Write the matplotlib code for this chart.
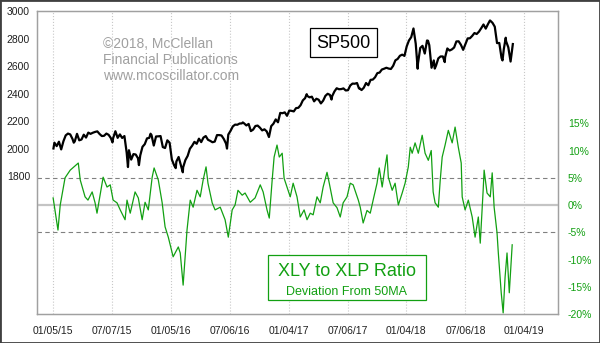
import pandas as pd
import matplotlib
matplotlib.use('Agg')
import matplotlib.pyplot as plt
import matplotlib.dates as mdates
from matplotlib.patches import Rectangle

plt.rcParams['font.family'] = ['Liberation Sans', 'DejaVu Sans']

# SP500 weekly closes (Fridays)
sp500_2015 = [2044, 2019, 2051, 1995, 2055, 2097, 2110, 2104, 2071, 2053, 2108, 2061,
              2067, 2102, 2081, 2117, 2108, 2116, 2122, 2126, 2107, 2092, 2094, 2110,
              2101, 2077, 2077, 2127, 2079, 2104, 2078, 2092, 1971, 1989, 1921, 1961,
              1958, 1931, 1951, 2014, 2033, 2075, 2079, 2099, 2023, 2089, 2090, 2092,
              2012, 2005, 2061, 2044]
sp500_2016 = [1922, 1880, 1907, 1940, 1880, 1865, 1918, 1948, 2000, 2022, 2050, 2036,
              2073, 2048, 2081, 2092, 2065, 2057, 2047, 2052, 2099, 2099, 2096, 2071,
              2037, 2103, 2130, 2162, 2175, 2174, 2183, 2184, 2184, 2169, 2180, 2128,
              2139, 2165, 2168, 2153, 2133, 2141, 2126, 2085, 2164, 2182, 2213, 2192,
              2260, 2258, 2264, 2239]
sp500_2017 = [2277, 2275, 2271, 2295, 2297, 2316, 2351, 2367, 2383, 2373, 2378, 2344,
              2363, 2356, 2329, 2349, 2384, 2399, 2391, 2382, 2416, 2439, 2432, 2433,
              2438, 2423, 2425, 2459, 2473, 2472, 2477, 2441, 2426, 2443, 2477, 2461,
              2500, 2502, 2519, 2549, 2553, 2575, 2581, 2588, 2582, 2579, 2602, 2642,
              2652, 2675, 2683, 2674]
sp500_2018 = [2743, 2786, 2810, 2873, 2762, 2620, 2732, 2747, 2691, 2786, 2752, 2588,
              2641, 2604, 2656, 2670, 2670, 2663, 2728, 2713, 2721, 2735, 2779, 2780,
              2755, 2718, 2760, 2801, 2802, 2819, 2840, 2833, 2850, 2875, 2902, 2872,
              2905, 2930, 2914, 2886, 2767, 2768, 2659, 2723, 2781, 2736, 2633, 2760]

# daily swing points between the weekly closes
sp500_extra_dates = ['2015-01-06', '2015-03-10', '2015-07-08', '2015-08-25', '2015-09-28',
                     '2015-11-03', '2016-01-20', '2016-02-11', '2016-06-27', '2016-08-15',
                     '2016-11-04', '2017-03-01', '2017-05-17', '2017-08-10', '2018-02-08',
                     '2018-03-12', '2018-04-02', '2018-05-03', '2018-09-20', '2018-10-29',
                     '2018-11-08']
sp500_extra = [2002, 2044, 2046, 1867, 1881, 2109, 1859, 1829, 2001, 2191,
               2085, 2396, 2357, 2438, 2581, 2784, 2582, 2629, 2931, 2641, 2806]

# XLY/XLP ratio, % deviation from its 50-day MA
ratio_dates = ['2015-01-05', '2015-01-20', '2015-01-27', '2015-02-11', '2015-02-27',
               '2015-03-24', '2015-03-30', '2015-04-14', '2015-04-23', '2015-05-06',
               '2015-05-15', '2015-05-21', '2015-06-09', '2015-06-21', '2015-07-01',
               '2015-07-10', '2015-07-22', '2015-08-01', '2015-08-16', '2015-08-22',
               '2015-09-01', '2015-09-16', '2015-09-26', '2015-10-08', '2015-10-17',
               '2015-10-27', '2015-11-08', '2015-11-14', '2015-11-27', '2015-12-09',
               '2015-12-18', '2015-12-28', '2016-01-12', '2016-01-28', '2016-02-03',
               '2016-02-12', '2016-02-24', '2016-03-05', '2016-03-14', '2016-03-26',
               '2016-04-05', '2016-04-14', '2016-04-23', '2016-04-29', '2016-05-12',
               '2016-05-21', '2016-06-06', '2016-06-21', '2016-07-01', '2016-07-13',
               '2016-07-22', '2016-07-31', '2016-08-13', '2016-08-22', '2016-09-07',
               '2016-09-22', '2016-10-08', '2016-10-17', '2016-10-29', '2016-11-05',
               '2016-11-14', '2016-11-20', '2016-11-29', '2016-12-06', '2016-12-15',
               '2016-12-21', '2016-12-30', '2017-01-09', '2017-01-18', '2017-01-30',
               '2017-02-09', '2017-02-21', '2017-03-02', '2017-03-12', '2017-03-21',
               '2017-04-02', '2017-04-12', '2017-04-21', '2017-05-03', '2017-05-10',
               '2017-05-22', '2017-06-03', '2017-06-13', '2017-06-22', '2017-07-04',
               '2017-07-14', '2017-07-23', '2017-08-08', '2017-08-14', '2017-08-23',
               '2017-09-04', '2017-09-14', '2017-09-23', '2017-10-05', '2017-10-12',
               '2017-10-21', '2017-10-30', '2017-11-05', '2017-11-09', '2017-11-21',
               '2017-11-30', '2017-12-10', '2017-12-22', '2017-12-31', '2018-01-10',
               '2018-01-16', '2018-01-22', '2018-01-31', '2018-02-10', '2018-02-22',
               '2018-03-03', '2018-03-13', '2018-03-22', '2018-03-28', '2018-04-03',
               '2018-04-13', '2018-04-19', '2018-04-25', '2018-05-04', '2018-05-14',
               '2018-05-26', '2018-06-04', '2018-06-14', '2018-06-23', '2018-06-26',
               '2018-07-05', '2018-07-15', '2018-07-27', '2018-08-05', '2018-08-15',
               '2018-08-21', '2018-08-30', '2018-09-02', '2018-09-11', '2018-09-21',
               '2018-09-27', '2018-10-03', '2018-10-12', '2018-10-16', '2018-10-25',
               '2018-10-31', '2018-11-06', '2018-11-12', '2018-11-19', '2018-11-25',
               '2018-11-28']
ratio_pct = [1.3, -4.6, 0.0, 5.0, 6.4, 7.7, 4.6, 1.5, 0.9, 2.4,
             0.4, -1.5, 5.1, 3.3, 3.7, 0.9, 0.4, -0.9, -2.7, 0.9,
             -1.5, 2.4, 1.3, -2.7, 0.5, -0.9, 5.1, 6.8, 4.6, 0.4,
             -4.0, -5.9, -9.5, -7.7, -8.8, -14.7, -4.6, 0.9, -0.4, 2.7,
             1.5, 4.6, 7.0, 4.0, 0.4, -0.9, -0.4, -2.7, -5.9, -0.9,
             0.0, 2.7, 1.8, 2.2, 0.5, 1.3, 3.7, 2.4, -0.9, -2.4,
             4.6, 8.8, 11.0, 8.8, 9.5, 4.9, 3.3, 1.5, 4.0, 1.5,
             -2.2, -0.9, -2.7, -1.5, -1.8, 1.5, 0.4, 3.3, 6.0, 4.0,
             0.4, -0.5, -2.2, 0.4, 1.5, 4.0, 3.7, 0.9, -0.4, -3.3,
             -1.0, -1.5, 0.9, 4.0, 6.8, 3.3, 7.0, 9.2, 5.1, 2.7,
             4.0, 0.0, 2.2, 4.0, 7.0, 10.6, 9.5, 11.4, 9.5, 12.8,
             9.5, 8.2, 10.0, 2.4, 0.4, -0.4, 4.6, 8.8, 11.0, 13.7,
             11.4, 14.3, 10.6, 7.7, 1.5, -0.9, 0.9, -2.2, -5.9, -2.2,
             -7.0, 2.7, 6.4, 2.2, 1.5, 5.9, -0.4, -5.1, -8.8, -16.1,
             -19.8, -13.2, -8.8, -16.1, -10.1, -7.3]

tick_dates = ['2015-01-05', '2015-07-07', '2016-01-05', '2016-07-06', '2017-01-04',
              '2017-07-06', '2018-01-04', '2018-07-06', '2019-01-04']
left_ticks = [1800, 2000, 2200, 2400, 2600, 2800, 3000]
right_ticks = [-20, -15, -10, -5, 0, 5, 10, 15]

#Put the SP500 series together
sp500_weekly = sp500_2015 + sp500_2016 + sp500_2017 + sp500_2018
sp = pd.Series(sp500_weekly, index=pd.date_range('2015-01-09', periods=len(sp500_weekly), freq='W-FRI'))
sp = pd.concat([sp, pd.Series(sp500_extra, index=pd.to_datetime(sp500_extra_dates))]).sort_index()
ratio = pd.Series(ratio_pct, index=pd.to_datetime(ratio_dates))

GRAY = '#a0a0a0'
GREEN = '#12a012'

fig = plt.figure(figsize=(6, 3.43), dpi=100)
ax = fig.add_axes([37/600, 29/343, 521/600, 303/343])
ax2 = ax.twinx()

ax.plot(sp.index, sp.values, color='black', linewidth=1.6)
ax.set_ylim(800, 3000)
ax.set_xlim(pd.Timestamp('2014-11-16'), pd.Timestamp('2019-04-19'))
ax.set_yticks(left_ticks)
ax.set_xticks(pd.to_datetime(tick_dates))
ax.xaxis.set_major_formatter(mdates.DateFormatter('%m/%d/%y'))
ax.grid(axis='x', color='#c8c8c8', linestyle=':', linewidth=0.8)
ax.tick_params(axis='y', length=0, labelsize=7.5, pad=5, labelcolor='#202020')
ax.tick_params(axis='x', length=0, labelsize=7.5, pad=9, labelcolor='#202020')

ax2.axhline(0, color='#c4c4c4', linewidth=1.6, zorder=1)
ax2.axhline(5, color='#808080', linewidth=0.8, dashes=(4, 3), zorder=1)
ax2.axhline(-5, color='#808080', linewidth=0.8, dashes=(4, 3), zorder=1)
ax2.plot(ratio.index, ratio.values, color=GREEN, linewidth=0.9, zorder=2)
ax2.set_ylim(-20, 35.6)
ax2.set_yticks(right_ticks)
ax2.set_yticklabels([str(v) + '%' for v in right_ticks])
ax2.tick_params(axis='y', length=0, labelsize=7.5, pad=7, labelcolor=GREEN)

for a in (ax, ax2):
    for s in a.spines.values():
        s.set_color(GRAY)
        s.set_linewidth(0.9)

fig.text(103/600, 1 - 37/343, '\u00a92018, McClellan\nFinancial Publications\nwww.mcoscillator.com',
         color=GRAY, fontsize=10, va='top', ha='left', linespacing=1.2)

#Label boxes
fig.add_artist(Rectangle((310/600, 1 - 57/343), 67/600, 29/343, transform=fig.transFigure,
                         facecolor='white', edgecolor='black', linewidth=0.9))
fig.text(343.5/600, 1 - 43/343, 'SP500', fontsize=13, ha='center', va='center', color='black')

fig.add_artist(Rectangle((268/600, 1 - 300/343), 158/600, 45/343, transform=fig.transFigure,
                         facecolor='white', edgecolor=GREEN, linewidth=0.9))
fig.text(347/600, 1 - 271/343, 'XLY to XLP Ratio', fontsize=13, ha='center', va='center', color=GREEN)
fig.text(347/600, 1 - 292/343, 'Deviation From 50MA', fontsize=9, ha='center', va='center', color=GREEN)

#Outer frame
fig.add_artist(Rectangle((0, 0), 1, 1, transform=fig.transFigure, fill=False,
                         edgecolor='#404040', linewidth=2))

fig.savefig('out.png', dpi=100)
